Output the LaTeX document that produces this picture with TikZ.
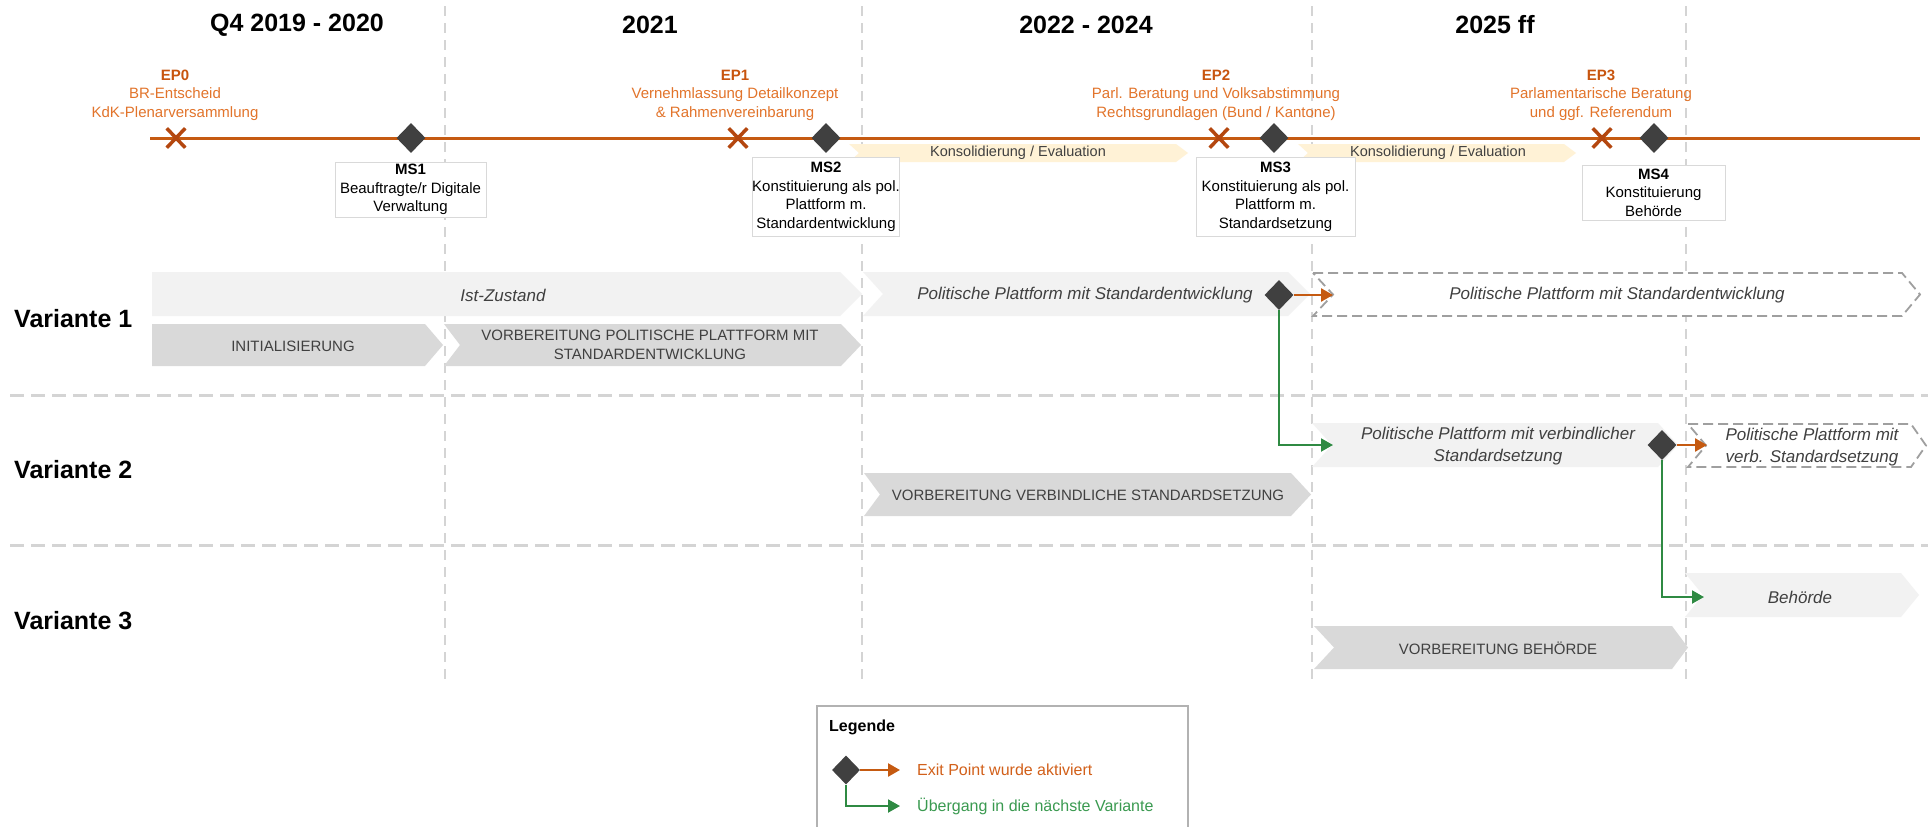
\documentclass[tikz,border=0pt]{standalone}
\usepackage{fontspec}
\setmainfont{Liberation Sans}
\usetikzlibrary{arrows.meta,shapes.geometric,shapes.misc}
\definecolor{lineor}{HTML}{C55A11}
\definecolor{xor}{HTML}{B4470F}
\definecolor{eptxt}{HTML}{E2742B}
\definecolor{epbold}{HTML}{C8550F}
\definecolor{legor}{HTML}{D2601A}
\definecolor{msgray}{HTML}{404040}
\definecolor{chlight}{HTML}{F2F2F2}
\definecolor{chdark}{HTML}{D9D9D9}
\definecolor{konsy}{HTML}{FFF2D6}
\definecolor{grline}{HTML}{D4D4D4}
\definecolor{grn}{HTML}{2F8A43}
\definecolor{legrn}{HTML}{3A9A50}
\definecolor{txtgray}{HTML}{404040}
\newcommand\chevshape[7]{\path[#1] (#2,#4) -- ({#3-#7},#4) -- (#3,{(#4+#5)/2}) -- ({#3-#7},#5) -- (#2,#5) -- ({#2+#6},{(#4+#5)/2}) -- cycle;}
\begin{document}
\begin{tikzpicture}[x=1pt,y=-1pt,
  vdash/.style={draw=grline, line width=2.5pt, dash pattern=on 10pt off 7pt},
  hdash/.style={draw=grline, line width=3pt, dash pattern=on 14pt off 7pt},
  chl/.style={fill=chlight},
  chd/.style={fill=chdark},
  chk/.style={fill=konsy},
  chdash/.style={fill=white, draw=gray!75, line width=1.8pt, dash pattern=on 10pt off 5pt},
  hdr/.style={font=\fontsize{25}{30}\selectfont\bfseries, inner sep=0pt},
  var/.style={font=\fontsize{25}{30}\selectfont\bfseries, inner sep=0pt, anchor=west},
  eplbl/.style={font=\fontsize{15}{18.5}\selectfont, text=eptxt, align=center, inner sep=0pt},
  xmark/.style={cross out, draw=xor, line width=3.5pt, minimum width=15pt, minimum height=16pt, inner sep=0pt},
  msd/.style={diamond, fill=msgray, minimum width=29pt, minimum height=30pt, inner sep=0pt},
  msbox/.style={draw=gray!30, fill=white, line width=1pt, align=center, inner sep=0pt, font=\fontsize{15}{18.5}\selectfont},
  ctxt/.style={font=\fontsize{17}{22}\selectfont\itshape, text=txtgray, align=center, inner sep=0pt},
  utxt/.style={font=\fontsize{15}{18.5}\selectfont, text=txtgray, align=center, inner sep=0pt},
  ktxt/.style={font=\fontsize{14.5}{17}\selectfont, text=txtgray, inner sep=0pt},
  orarr/.style={draw=lineor, line width=2.5pt, -{Triangle[length=12pt,width=13pt]}},
  grarr/.style={draw=grn, line width=2pt, -{Triangle[length=12pt,width=13pt]}},
  legbox/.style={draw=gray!60, line width=2pt, fill=white, minimum width=371pt, minimum height=150pt, inner sep=0pt}
]
\useasboundingbox (0,0) rectangle (1928,827);
\fill[white] (0,0) rectangle (1928,827);

% vertical dashed lines
\foreach \xx/\nm in {445/a,862/b,1312/c,1686/d} {
  \coordinate (v\nm t) at (\xx,6);
  \coordinate (v\nm b) at (\xx,683);
  \draw[vdash] (v\nm t) -- (v\nm b);
}
% horizontal separators
\coordinate (h1a) at (10,395); \coordinate (h1b) at (1928,395);
\coordinate (h2a) at (10,545); \coordinate (h2b) at (1928,545);
\draw[hdash] (h1a) -- (h1b);
\draw[hdash] (h2a) -- (h2b);

% headers
\node[hdr] (hd1) at (297,25) {Q4 2019 - 2020};
\node[hdr] (hd2) at (650,25) {2021};
\node[hdr] (hd3) at (1086,25) {2022 - 2024};
\node[hdr] (hd4) at (1495,25) {2025 ff};

% timeline
\coordinate (tl0) at (150,138); \coordinate (tl1) at (1920,138);
\draw[lineor, line width=3pt] (tl0) -- (tl1);

% Konsolidierung chevrons
\chevshape{chk}{849}{1188}{144}{162}{10}{12}
\chevshape{chk}{1298}{1576}{144}{162}{10}{12}
\node[ktxt] (k1) at (1018,153) {Konsolidierung / Evaluation};
\node[ktxt] (k2) at (1438,153) {Konsolidierung / Evaluation};

% exit points
\node[xmark] (x0) at (176,138) {};
\node[xmark] (x1) at (738,138) {};
\node[xmark] (x2) at (1219,138) {};
\node[xmark] (x3) at (1602,138) {};
\node[eplbl] (ep0) at (175,95) {\textbf{\textcolor{epbold}{EP0}}\\BR-Entscheid\\KdK-Plenarversammlung};
\node[eplbl] (ep1) at (735,95) {\textbf{\textcolor{epbold}{EP1}}\\Vernehmlassung Detailkonzept\\\& Rahmenvereinbarung};
\node[eplbl] (ep2) at (1216,95) {\textbf{\textcolor{epbold}{EP2}}\\Parl. Beratung und Volksabstimmung\\Rechtsgrundlagen (Bund / Kantone)};
\node[eplbl] (ep3) at (1601,95) {\textbf{\textcolor{epbold}{EP3}}\\Parlamentarische Beratung\\und ggf. Referendum};

% milestones
\node[msd] (m1) at (411,138) {};
\node[msd] (m2) at (826,138) {};
\node[msd] (m3) at (1274,138) {};
\node[msd] (m4) at (1654,138) {};
\node[msbox, minimum width=151pt, minimum height=55pt] (b1) at (410.5,189.5) {\textbf{MS1}\\Beauftragte/r Digitale\\Verwaltung};
\node[msbox, minimum width=146pt, minimum height=79pt] (b2) at (826,197) {\textbf{MS2}\\Konstituierung als pol.\\Plattform m.\\Standardentwicklung};
\node[msbox, minimum width=159pt, minimum height=79pt] (b3) at (1275.5,197) {\textbf{MS3}\\Konstituierung als pol.\\Plattform m.\\Standardsetzung};
\node[msbox, minimum width=143pt, minimum height=55pt] (b4) at (1653.5,192.5) {\textbf{MS4}\\Konstituierung\\Behörde};

% Variante labels
\node[var] (var1) at (14,319) {Variante 1};
\node[var] (var2) at (14,470) {Variante 2};
\node[var] (var3) at (14,621) {Variante 3};

% Variante 1 chevrons
\chevshape{chl}{152}{862}{272}{316}{0}{22}
\chevshape{chl}{863}{1310}{272}{316}{20}{22}
\chevshape{chdash}{1313}{1920}{273}{316}{20}{18}
\chevshape{chd}{152}{443}{324}{366}{0}{18}
\chevshape{chd}{444}{861}{324}{366}{16}{20}
\node[ctxt] (ist) at (503,295) {Ist-Zustand};
\node[ctxt] (pp1) at (1085,295) {Politische Plattform mit Standardentwicklung};
\node[ctxt] (pp1d) at (1617,295) {Politische Plattform mit Standardentwicklung};
\node[utxt] (init) at (293,346) {INITIALISIERUNG};
\node[utxt] (vpp) at (650,345) {VORBEREITUNG POLITISCHE PLATTFORM MIT\\STANDARDENTWICKLUNG};
\coordinate (pp1din) at (1333,295);

% Variante 2 chevrons
\chevshape{chl}{1312}{1678}{423}{467}{20}{20}
\chevshape{chdash}{1688}{1926}{424}{467}{18}{15}
\chevshape{chd}{864}{1311}{473}{516}{16}{20}
\node[ctxt] (ppv) at (1498,446) {Politische Plattform mit verbindlicher\\Standardsetzung};
\node[ctxt] (ppvd) at (1812,447) {Politische Plattform mit\\verb. Standardsetzung};
\node[utxt] (vvs) at (1088,495) {VORBEREITUNG VERBINDLICHE STANDARDSETZUNG};
\coordinate (ppvin) at (1333,445);
\coordinate (ppvdin) at (1707,445);

% Variante 3 chevrons
\chevshape{chl}{1685}{1919}{573}{617}{18}{18}
\chevshape{chd}{1314}{1688}{626}{669}{20}{16}
\node[ctxt] (beh) at (1800,597) {Behörde};
\node[utxt] (vbeh) at (1498,648) {VORBEREITUNG BEHÖRDE};
\coordinate (behin) at (1704,597);

% exit diamonds and transitions
\node[msd] (d1) at (1279,295) {};
\node[msd] (d2) at (1662,445) {};
\draw[orarr] (d1.east) -- (pp1din);
\draw[grarr] (d1.south) |- (ppvin);
\draw[orarr] (d2.east) -- (ppvdin);
\draw[grarr] (d2.south) |- (behin);

% legend
\node[legbox] (lgb) at (1002.5,781) {};
\node[font=\fontsize{16}{19}\selectfont\bfseries, anchor=west, inner sep=0pt] (legt) at (829,727) {Legende};
\node[msd, minimum width=28pt, minimum height=29pt] (ld) at (846,770) {};
\coordinate (lo) at (900,770);
\coordinate (lg) at (900,806);
\draw[orarr] (ld.east) -- (lo);
\draw[grarr] (ld.south) |- (lg);
\node[font=\fontsize{16}{19}\selectfont, text=legor, anchor=west, inner sep=0pt] (lt1) at (917,770) {Exit Point wurde aktiviert};
\node[font=\fontsize{16}{19}\selectfont, text=legrn, anchor=west, inner sep=0pt] (lt2) at (917,806) {Übergang in die nächste Variante};
\end{tikzpicture}
\end{document}
